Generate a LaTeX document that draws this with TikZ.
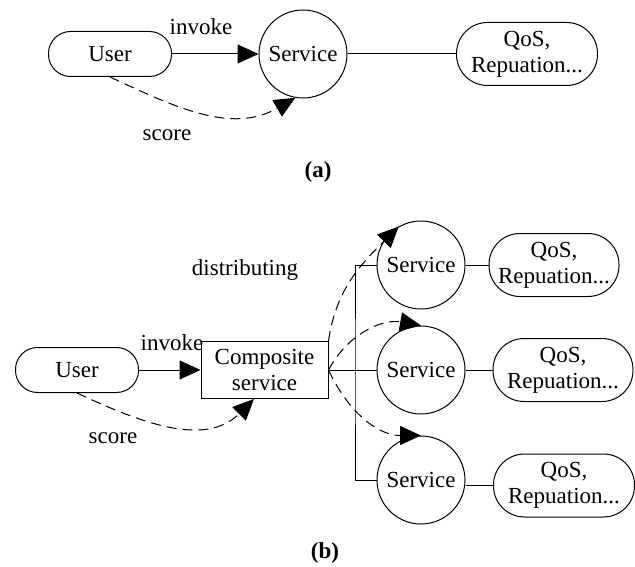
\documentclass[tikz,border=0pt]{standalone}
\usepackage{fontspec}
\setmainfont{Liberation Serif}
\usepackage{tikz}
\usetikzlibrary{arrows.meta,positioning,shapes,calc}

\begin{document}
\begin{tikzpicture}[x=1pt, y=-1pt, line width=1pt,
    font=\fontsize{23}{26}\selectfont,
    pill/.style={rectangle, draw, rounded corners=22pt, minimum width=123pt, minimum height=45pt, inner sep=0pt},
    qos/.style={rectangle, draw, rounded corners=31pt, minimum height=63pt, inner sep=0pt, align=center},
    serv/.style={circle, draw, minimum size=88pt, inner sep=0pt},
    compbox/.style={rectangle, draw, minimum width=127pt, minimum height=57pt, inner sep=0pt, align=center},
    caption/.style={font=\fontsize{23}{26}\selectfont\bfseries},
    arrow/.style={-{Triangle[length=21pt, width=19pt]}},
    score/.style={arrow, dash pattern=on 10pt off 6pt}
]
    \useasboundingbox (0,0) rectangle (635,567);

    % (a) single service
    \node[pill] (userA) at (110,54) {User};
    \node[serv] (servA) at (303,54) {Service};
    \node[qos, minimum width=141pt] (qosA) at (527,54) {QoS,\\Repuation...};

    \draw[arrow] (userA) -- (servA);
    \draw (servA) -- (qosA);
    \draw[score] (userA.south) to[out=-25, in=210] (servA.-100);

    \node (invA) at (201,27) {invoke};
    \node (scoreA) at (167,135) {score};
    \node[caption] (capA) at (318,172) {(a)};

    % (b) composite service
    \node[pill] (userB) at (77,370) {User};
    \node[compbox] (compB) at (264.5,370) {Composite\\service};
    \node[serv] (servB1) at (421,265) {Service};
    \node[serv] (servB2) at (421,370) {Service};
    \node[serv] (servB3) at (421,480) {Service};
    \node[qos, minimum width=130pt] (qosB1) at (554,265) {QoS,\\Repuation...};
    \node[qos, minimum width=140pt] (qosB2) at (563,370) {QoS,\\Repuation...};
    \node[qos, minimum width=141pt] (qosB3) at (564,485.5) {QoS,\\Repuation...};
    \coordinate (trunk) at (355,370);

    % Links
    \draw[arrow] (userB) -- (compB);
    \draw (compB) -- (servB2);
    \draw (servB1.west) -| (trunk) |- (servB3.west);
    \draw (servB1) -- (qosB1);
    \draw (servB2) -- (qosB2);
    \draw (servB3.east |- qosB3.west) -- (qosB3.west);

    % Scores and distribution
    \draw[score] (userB.south) to[out=-25, in=225] (compB.-110);
    \draw[score] (compB.north east) to[out=82, in=225] (servB1.120);
    \draw[score] (compB.east) to[out=62, in=170] (servB2.north);
    \draw[score] (compB.east) to[out=-65, in=180] (servB3.north);

    \node (distB) at (245,270) {distributing};
    \node (invB) at (172,343) {invoke};
    \node (scoreB) at (113,438) {score};
    \node[caption] (capB) at (325,553) {(b)};
\end{tikzpicture}
\end{document}
